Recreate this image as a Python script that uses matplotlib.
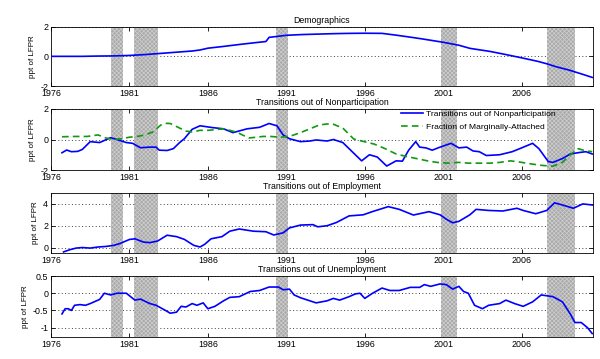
import matplotlib
matplotlib.use("Agg")
import matplotlib.pyplot as plt

plt.rcParams['font.family'] = ['Liberation Sans', 'DejaVu Sans']
plt.rcParams['axes.unicode_minus'] = False
plt.rcParams['hatch.linewidth'] = 0.5

# ---------------- data ----------------
recessions = [(1979.85, 1980.6), (1981.3, 1982.85), (1990.35, 1991.1),
              (2000.85, 2001.9), (2007.6, 2009.4)]

xticks = [1976, 1981, 1986, 1991, 1996, 2001, 2006]
xticklabels = ['1976', '1981', '1986', '1991', '1996', '2001', '2006']

titles = ['Demographics', 'Transitions out of Nonparticipation',
          'Transitions out of Employment', 'Transitions out of Unemployment']

demo_t = [1976.0, 1977.0, 1978.0, 1979.0, 1980.0, 1981.0, 1982.0, 1983.0, 1984.0,
          1985.0, 1985.5, 1986.0, 1987.0, 1988.0, 1989.0, 1989.7, 1989.9, 1991.0,
          1992.0, 1993.0, 1994.0, 1995.0, 1996.0, 1997.1, 1998.0, 1999.0, 1999.7,
          2001.0, 2002.0, 2002.7, 2004.0, 2005.0, 2006.0, 2007.0, 2007.6, 2008.2,
          2009.0, 2009.8, 2010.5]
demo_v = [0.0, 0.0, 0.0, 0.02, 0.03, 0.06, 0.12, 0.2, 0.28,
          0.36, 0.43, 0.55, 0.67, 0.8, 0.92, 1.0, 1.28, 1.42,
          1.47, 1.5, 1.53, 1.55, 1.56, 1.55, 1.43, 1.28, 1.17,
          0.95, 0.75, 0.54, 0.33, 0.12, -0.1, -0.33, -0.5, -0.7,
          -0.92, -1.18, -1.42]

np_t = [1976.7, 1977.0, 1977.3, 1977.7, 1978.0, 1978.5, 1979.1, 1979.8, 1980.2,
        1980.8, 1981.2, 1981.7, 1982.3, 1982.7, 1982.9, 1983.4, 1983.8, 1984.2,
        1984.5, 1985.0, 1985.5, 1986.3, 1987.0, 1987.6, 1988.5, 1989.3, 1989.9,
        1990.4, 1990.8, 1991.2, 1991.9, 1992.5, 1992.9, 1993.6, 1994.0, 1994.6,
        1995.3, 1995.8, 1996.3, 1996.8, 1997.4, 1998.0, 1998.4, 1998.8, 1999.25,
        1999.5, 1999.9, 2000.3, 2000.8, 2001.5, 2002.0, 2002.5, 2002.9, 2003.3,
        2003.75, 2004.6, 2005.4, 2006.0, 2006.7, 2007.1, 2007.7, 2008.0, 2008.6,
        2009.1, 2009.7, 2010.1, 2010.5]
np_v = [-0.87, -0.69, -0.8, -0.78, -0.65, -0.14, -0.2, 0.12, 0.0,
        -0.2, -0.25, -0.54, -0.5, -0.5, -0.7, -0.72, -0.6, -0.2,
        0.05, 0.67, 0.9, 0.78, 0.7, 0.45, 0.7, 0.8, 1.05,
        0.9, 0.3, 0.05, -0.14, -0.1, -0.03, -0.1, 0.0, -0.2,
        -0.9, -1.4, -1.0, -1.15, -1.74, -1.4, -1.42, -0.7, -0.14,
        -0.5, -0.55, -0.7, -0.5, -0.25, -0.55, -0.5, -0.75, -0.8,
        -1.05, -1.0, -0.8, -0.55, -0.25, -0.6, -1.45, -1.5, -1.25,
        -0.95, -0.85, -0.8, -0.95]

ma_t = [1976.7, 1977.5, 1978.3, 1979.0, 1979.5, 1980.0, 1980.5, 1981.0, 1981.5,
        1982.0, 1982.5, 1983.0, 1983.3, 1983.6, 1984.0, 1984.6, 1985.0, 1985.5,
        1986.0, 1987.0, 1987.6, 1988.0, 1988.6, 1989.1, 1989.5, 1990.0, 1990.6,
        1991.2, 1991.9, 1992.5, 1993.1, 1993.6, 1994.0, 1994.6, 1995.3, 1996.0,
        1996.6, 1997.3, 1998.0, 1998.6, 1999.3, 2000.0, 2000.6, 2001.3, 2002.0,
        2002.6, 2003.3, 2004.0, 2004.6, 2005.3, 2006.0, 2006.6, 2007.3, 2008.0,
        2008.6, 2009.1, 2009.6, 2010.0, 2010.5]
ma_v = [0.18, 0.2, 0.2, 0.3, 0.1, 0.0, 0.05, 0.15, 0.2,
        0.3, 0.5, 0.95, 1.06, 1.05, 0.85, 0.55, 0.5, 0.6,
        0.6, 0.7, 0.55, 0.4, 0.1, 0.15, 0.2, 0.2, 0.15,
        0.2, 0.45, 0.7, 0.95, 1.02, 1.0, 0.75, 0.03, -0.15,
        -0.3, -0.6, -0.95, -1.1, -1.25, -1.4, -1.5, -1.55, -1.5,
        -1.55, -1.55, -1.55, -1.5, -1.4, -1.5, -1.6, -1.7, -1.75,
        -1.5, -1.0, -0.6, -0.72, -0.8]

emp_t = [1976.8, 1977.2, 1977.6, 1978.0, 1978.5, 1979.0, 1979.5, 1980.0, 1980.4,
         1981.0, 1981.35, 1981.9, 1982.3, 1982.8, 1983.4, 1984.0, 1984.5, 1985.1,
         1985.5, 1985.8, 1986.2, 1986.9, 1987.4, 1988.0, 1988.9, 1989.7, 1990.2,
         1990.8, 1991.2, 1991.9, 1992.7, 1993.0, 1993.6, 1994.2, 1995.0, 1995.9,
         1996.5, 1997.5, 1998.2, 1999.1, 2000.1, 2000.8, 2001.2, 2001.6, 2002.0,
         2002.7, 2003.1, 2003.9, 2004.8, 2005.7, 2006.1, 2006.9, 2007.6, 2008.1,
         2008.6, 2009.3, 2009.9, 2010.5]
emp_v = [-0.4, -0.2, -0.05, 0.0, -0.05, 0.05, 0.1, 0.2, 0.37,
         0.74, 0.8, 0.5, 0.45, 0.6, 1.13, 1.0, 0.75, 0.2,
         0.05, 0.3, 0.8, 1.0, 1.5, 1.7, 1.5, 1.45, 1.15,
         1.35, 1.8, 2.06, 2.1, 1.9, 2.0, 2.3, 2.9, 3.0,
         3.3, 3.75, 3.5, 2.98, 3.29, 3.0, 2.6, 2.27, 2.4,
         3.0, 3.5, 3.4, 3.35, 3.6, 3.4, 3.1, 3.4, 4.1,
         3.9, 3.6, 4.0, 3.9]

un_t = [1976.7, 1976.9, 1977.1, 1977.3, 1977.5, 1977.85, 1978.2, 1978.5, 1979.1,
        1979.4, 1979.8, 1980.2, 1980.8, 1981.35, 1981.7, 1982.3, 1982.7, 1983.3,
        1983.6, 1984.0, 1984.3, 1984.6, 1985.0, 1985.3, 1985.7, 1986.0, 1986.45,
        1987.0, 1987.4, 1988.0, 1988.7, 1989.3, 1989.9, 1990.5, 1990.8, 1991.2,
        1991.5, 1991.9, 1992.9, 1993.6, 1994.0, 1994.4, 1995.0, 1995.4, 1995.7,
        1996.0, 1996.5, 1997.1, 1997.6, 1998.2, 1998.9, 1999.5, 1999.8, 2000.2,
        2000.8, 2001.2, 2001.6, 2002.0, 2002.3, 2002.6, 2003.0, 2003.5, 2003.9,
        2004.6, 2005.0, 2005.55, 2006.1, 2006.7, 2007.25, 2008.0, 2008.6, 2009.1,
        2009.4, 2009.8, 2010.2, 2010.5]
un_v = [-0.6, -0.45, -0.45, -0.5, -0.35, -0.33, -0.35, -0.3, -0.18,
        0.0, -0.05, 0.0, 0.0, -0.2, -0.17, -0.3, -0.35, -0.5,
        -0.58, -0.55, -0.38, -0.4, -0.3, -0.35, -0.28, -0.45, -0.38,
        -0.22, -0.12, -0.1, 0.05, 0.08, 0.18, 0.18, 0.1, 0.12,
        -0.05, -0.13, -0.28, -0.22, -0.15, -0.2, -0.1, -0.02, 0.0,
        -0.15, 0.0, 0.15, 0.08, 0.08, 0.17, 0.17, 0.25, 0.2,
        0.27, 0.25, 0.12, 0.2, 0.05, 0.0, -0.35, -0.45, -0.35,
        -0.3, -0.2, -0.3, -0.38, -0.25, -0.05, -0.1, -0.25, -0.6,
        -0.85, -0.85, -1.0, -1.17]

yticks_list = [[-2, 0, 2], [-2, 0, 2], [0, 2, 4], [-1, -0.5, 0, 0.5]]
yticklabels_list = [['-2', '0', '2'], ['-2', '0', '2'], ['0', '2', '4'],
                    ['-1', '-0.5', '0', '0.5']]
ylims = [(-2, 2), (-2, 2), (-0.5, 5), (-1.27, 0.5)]

# ---------------- figure ----------------
fig = plt.figure(figsize=(6.0, 3.59), dpi=100)
W, H = 600.0, 359.0
left, right = 51, 593
tops_bottoms = [(26.7, 86), (109, 170), (193, 253), (276, 337)]
axes = []
for (t, b) in tops_bottoms:
    ax = fig.add_axes([left / W, 1 - b / H, (right - left) / W, (b - t) / H])
    axes.append(ax)

series = [[(demo_t, demo_v)], [(np_t, np_v)], [(emp_t, emp_v)], [(un_t, un_v)]]

for i, ax in enumerate(axes):
    for (a, b) in recessions:
        ax.axvspan(a, b, facecolor='#a9a9a9', edgecolor='#cfcfcf', hatch='xxxxxxxx',
                   linewidth=0, zorder=1)
    for (t, v) in series[i]:
        ax.plot(t, v, color='#0000ff', lw=1.2, zorder=3,
                label='Transitions out of Nonparticipation')
    if i == 1:
        ax.plot(ma_t, ma_v, color='#119911', lw=1.2, ls=(0, (4, 2.5)), zorder=3,
                label='Fraction of Marginally-Attached')
        leg = ax.legend(loc='upper left', bbox_to_anchor=(0.645, 0.975),
                        fontsize=6.1, frameon=False, borderpad=0.0,
                        handlelength=2.7, labelspacing=0.55, handletextpad=0.35,
                        borderaxespad=0.0)
        leg.set_zorder(5)
    ax.set_xlim(1976, 2010.55)
    ax.set_ylim(*ylims[i])
    ax.set_xticks(xticks)
    ax.set_xticklabels(xticklabels)
    ax.set_yticks(yticks_list[i])
    ax.set_yticklabels(yticklabels_list[i])
    ax.tick_params(direction='in', top=True, right=True, labelsize=6.4, length=3,
                   width=0.6, pad=2)
    ax.yaxis.grid(True, color='0.25', ls=(0, (1, 2.5)), lw=0.7, zorder=0)
    ax.set_axisbelow(True)
    for s in ax.spines.values():
        s.set_linewidth(0.6)
    ax.set_ylabel('ppt of LFPR', fontsize=5.8, labelpad=3)
    ax.set_title(titles[i], fontsize=6.3, pad=3)

fig.savefig('out.png', dpi=100)
